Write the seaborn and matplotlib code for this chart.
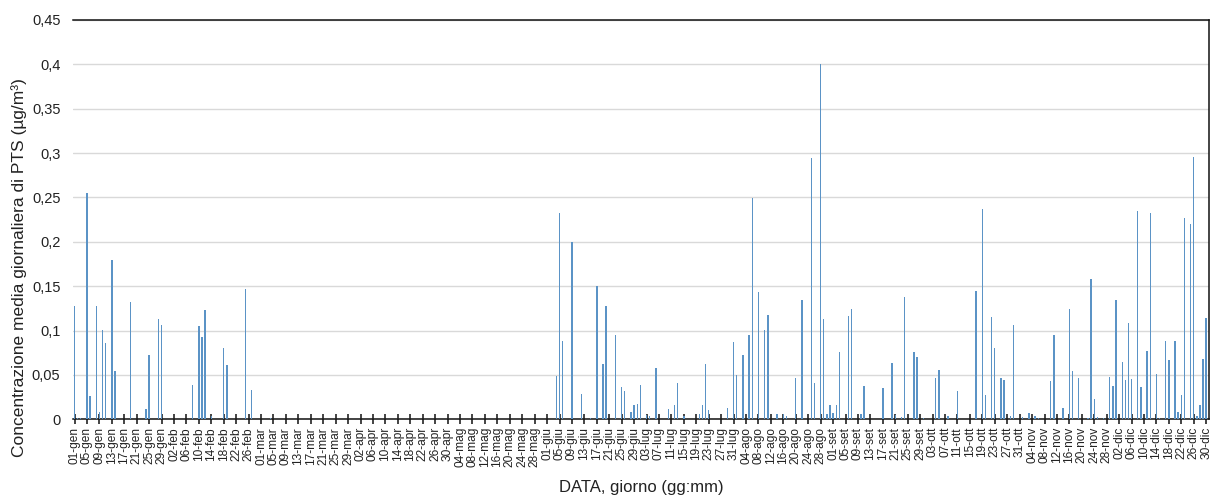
import matplotlib
matplotlib.use("Agg")
import matplotlib.pyplot as plt
import numpy as np
import pandas as pd
import seaborn as sns

# ---- data -------------------------------------------------------------
year = 2016
month_abbr = ["gen", "feb", "mar", "apr", "mag", "giu",
              "lug", "ago", "set", "ott", "nov", "dic"]

# day of year (0 = 01-gen) with a measured value; all other days are 0
event_days = [
    0, 1, 2, 4, 5, 7, 8, 9, 10, 12, 13, 18, 23, 24, 27, 28, 38, 40, 41, 42,
    44, 48, 49, 55, 57, 63,
    155, 156, 157, 160, 163, 166, 168, 170, 171, 174, 176, 177, 179, 180,
    181, 182, 184, 185, 187, 191, 193, 194, 196, 201, 202, 203, 204, 210,
    212, 213, 215, 217, 218, 220, 222, 223, 226, 228, 229, 232, 234, 237,
    238, 240, 241, 242, 243, 244, 245, 246, 249, 250, 253, 254, 260, 263,
    264, 266, 267, 270, 271, 273, 277, 278, 281, 284, 290, 292, 293, 295,
    296, 298, 299, 301, 302, 305, 307, 309, 310, 314, 315, 318, 320, 321,
    323, 326, 327, 328, 329, 331, 333, 334, 335, 337, 338, 339, 340, 342,
    343, 345, 346, 348, 349, 351, 352, 354, 355, 356, 357, 359, 360, 361,
    362, 363, 364,
]
event_values = [
    0.128, 0.002, 0.002, 0.255, 0.026, 0.128, 0.008, 0.101, 0.086, 0.179,
    0.055, 0.132, 0.012, 0.072, 0.113, 0.106, 0.039, 0.105, 0.093, 0.123,
    0.004, 0.080, 0.061, 0.147, 0.033, 0.002,
    0.049, 0.232, 0.088, 0.200, 0.029, 0.002, 0.150, 0.062, 0.128, 0.095,
    0.036, 0.032, 0.008, 0.016, 0.017, 0.039, 0.005, 0.004, 0.058, 0.012,
    0.016, 0.041, 0.004, 0.006, 0.016, 0.062, 0.011, 0.013, 0.087, 0.050,
    0.072, 0.095, 0.249, 0.144, 0.101, 0.118, 0.006, 0.006, 0.004, 0.046,
    0.135, 0.295, 0.041, 0.400, 0.113, 0.006, 0.016, 0.007, 0.016, 0.076,
    0.116, 0.124, 0.006, 0.038, 0.035, 0.063, 0.005, 0.003, 0.138, 0.076,
    0.070, 0.002, 0.046, 0.056, 0.004, 0.032, 0.145, 0.237, 0.027, 0.115,
    0.080, 0.047, 0.044, 0.004, 0.106, 0.003, 0.007, 0.004, 0.002, 0.043,
    0.095, 0.013, 0.124, 0.055, 0.046, 0.002, 0.158, 0.023, 0.003, 0.002,
    0.048, 0.037, 0.134, 0.065, 0.044, 0.109, 0.045, 0.235, 0.036, 0.077,
    0.233, 0.051, 0.002, 0.088, 0.067, 0.088, 0.008, 0.027, 0.227, 0.220,
    0.296, 0.004, 0.016, 0.068, 0.114,
]

y_ticks = [0, 0.05, 0.1, 0.15, 0.2, 0.25, 0.3, 0.35, 0.4, 0.45]
y_label = "Concentrazione media giornaliera di PTS (µg/m³)"
x_label = "DATA, giorno (gg:mm)"
tick_step = 4

# ---- table ------------------------------------------------------------
dates = pd.date_range(f"{year}-01-01", f"{year}-12-31", freq="D")
values = np.zeros(len(dates))
values[event_days] = event_values
labels = [f"{d.day:02d}-{month_abbr[d.month - 1]}" for d in dates]
df = pd.DataFrame({"pos": np.arange(len(dates)), "giorno": labels, "valore": values})

# ---- plot -------------------------------------------------------------
sns.set_theme(style="white")
plt.rcParams["font.family"] = ["Liberation Sans", "DejaVu Sans"]

fig = plt.figure(figsize=(12.12, 4.97), dpi=100)
ax = fig.add_axes([0.0602, 0.1563, 0.9373, 0.8035])

sns.barplot(data=df, x="pos", y="valore", native_scale=True, width=0.45,
            color="#5b93c6", saturation=1, linewidth=0, ax=ax, zorder=3)

ax.set_xlim(-0.5, 364.9)
ax.set_ylim(0, 0.45)
ax.set_yticks(y_ticks)
ax.set_yticklabels([("%g" % v).replace(".", ",") for v in y_ticks],
                   fontsize=10.5, color="#222222")
tick_pos = df["pos"].values[::tick_step]
ax.set_xticks(tick_pos)
ax.set_xticklabels(df["giorno"].values[::tick_step], rotation=90,
                   fontsize=8.6, color="#222222")

ax.grid(axis="y", color="#d9d9d9", linewidth=1.0, zorder=0)
ax.grid(axis="x", visible=False)
ax.set_axisbelow(True)

for side in ["top", "right", "bottom"]:
    ax.spines[side].set_visible(True)
    ax.spines[side].set_color("#111111")
    ax.spines[side].set_linewidth(1.1)
ax.spines["left"].set_visible(False)

ax.tick_params(axis="x", direction="inout", length=7, width=1.1,
               color="#111111", pad=2, bottom=True)
ax.tick_params(axis="y", length=0, pad=9)

ax.set_xlabel(x_label, fontsize=12, color="#222222")
ax.set_ylabel(y_label, fontsize=12.5, color="#222222")
ax.xaxis.set_label_coords(0.5, -0.152)
ax.yaxis.set_label_coords(-0.0405, 0.38)

fig.savefig("out.png", dpi=100)
